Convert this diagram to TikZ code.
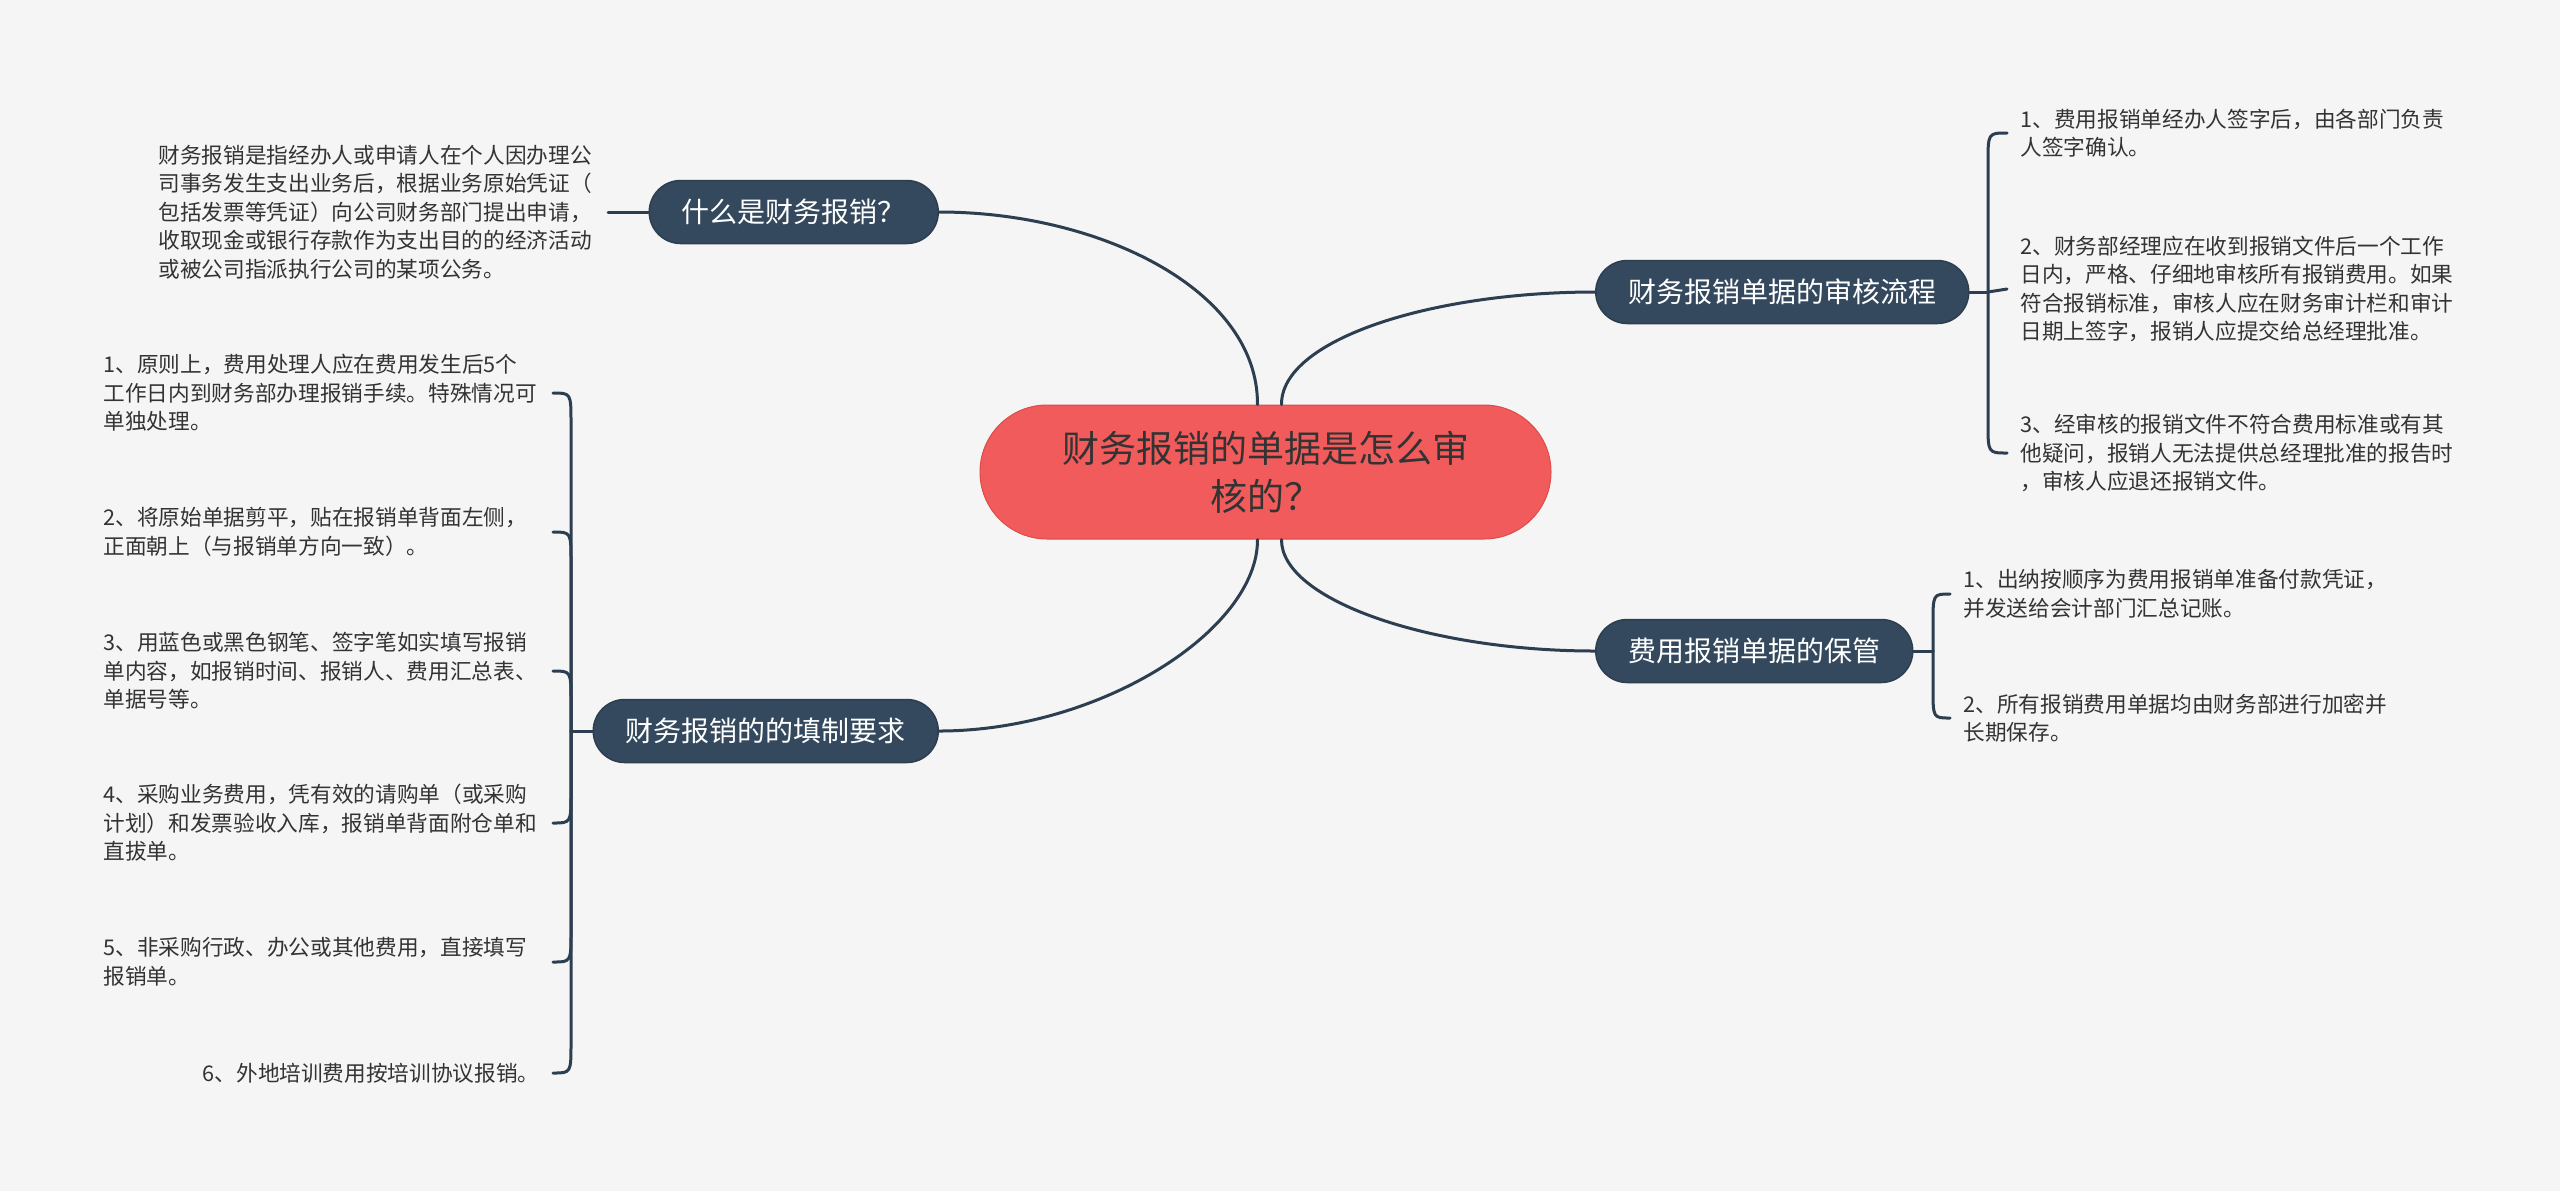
\documentclass[tikz,border=0pt]{standalone}
\usepackage{fontspec}
\setmainfont{Noto Sans CJK SC}
\definecolor{navy}{HTML}{34495E}
\definecolor{navyline}{HTML}{2C3E50}
\definecolor{coral}{HTML}{F15B5B}
\definecolor{coraledge}{HTML}{DB4C4C}
\definecolor{paper}{HTML}{F5F5F5}
\definecolor{ink}{HTML}{333333}
\begin{document}
\begin{tikzpicture}[x=0.5pt, y=-0.5pt, line join=round, line cap=round,
	link/.style={draw=navyline, line width=1.5pt},
	topic/.style={fill=navy, draw=navyline, line width=0.75pt, text=white, rounded corners=15.75pt, minimum height=31.5pt, inner xsep=16.25pt, inner ysep=0pt, font=\fontsize{14pt}{17pt}\selectfont},
	leaf/.style={text=ink, text width=218pt, align=left, inner xsep=6.5pt, inner ysep=0pt, font=\fontsize{10.83pt}{14.25pt}\selectfont}]
	\fill[paper] (0,0) rectangle (2560,1191);
	\useasboundingbox (0,0) rectangle (2560,1191);
	\node[fill=coral, draw=coraledge, line width=0.5pt, text=ink, rounded corners=33.5pt, minimum width=285.5pt, minimum height=67pt, align=center, font=\fontsize{18.5pt}{24pt}\selectfont] (root) at (1265.5,472) {财务报销的单据是怎么审\\核的？};
	\node[topic, anchor=east] (what) at (939,212) {什么是财务报销？};
	\node[topic, anchor=east] (fill) at (939,731) {财务报销的的填制要求};
	\node[topic, anchor=west] (review) at (1595,292) {财务报销单据的审核流程};
	\node[topic, anchor=west] (keep) at (1595,651) {费用报销单据的保管};
	\node[leaf, anchor=east] (whatdesc) at (608,212) {财务报销是指经办人或申请人在个人因办理公\\司事务发生支出业务后，根据业务原始凭证（\\包括发票等凭证）向公司财务部门提出申请，\\收取现金或银行存款作为支出目的的经济活动\\或被公司指派执行公司的某项公务。};
	\node[leaf, anchor=east] (fill1) at (553,393) {1、原则上，费用处理人应在费用发生后5个\\工作日内到财务部办理报销手续。特殊情况可\\单独处理。};
	\node[leaf, anchor=east] (fill2) at (553,532) {2、将原始单据剪平，贴在报销单背面左侧，\\正面朝上（与报销单方向一致）。};
	\node[leaf, anchor=east] (fill3) at (553,671) {3、用蓝色或黑色钢笔、签字笔如实填写报销\\单内容，如报销时间、报销人、费用汇总表、\\单据号等。};
	\node[leaf, anchor=east] (fill4) at (553,823) {4、采购业务费用，凭有效的请购单（或采购\\计划）和发票验收入库，报销单背面附仓单和\\直拔单。};
	\node[leaf, anchor=east] (fill5) at (553,962) {5、非采购行政、办公或其他费用，直接填写\\报销单。};
	\node[leaf, anchor=east, align=right] (fill6) at (553,1073) {6、外地培训费用按培训协议报销。};
	\node[leaf, anchor=west] (review1) at (2007,133) {1、费用报销单经办人签字后，由各部门负责\\人签字确认。};
	\node[leaf, anchor=west] (review2) at (2007,289) {2、财务部经理应在收到报销文件后一个工作\\日内，严格、仔细地审核所有报销费用。如果\\符合报销标准，审核人应在财务审计栏和审计\\日期上签字，报销人应提交给总经理批准。};
	\node[leaf, anchor=west] (review3) at (2007,453) {3、经审核的报销文件不符合费用标准或有其\\他疑问，报销人无法提供总经理批准的报告时\\，审核人应退还报销文件。};
	\node[leaf, anchor=west] (keep1) at (1950,594) {1、出纳按顺序为费用报销单准备付款凭证，\\并发送给会计部门汇总记账。};
	\node[leaf, anchor=west] (keep2) at (1950,718) {2、所有报销费用单据均由财务部进行加密并\\长期保存。};
	\draw[link] (what.east) .. controls (1100,212) and (1258,290) .. ([xshift=-4pt]root.north);
	\draw[link] (fill.east) .. controls (1100,731) and (1258,630) .. ([xshift=-4pt]root.south);
	\draw[link] (review.west) .. controls (1430,292) and (1281,340) .. ([xshift=8pt]root.north);
	\draw[link] (keep.west) .. controls (1430,651) and (1281,600) .. ([xshift=8pt]root.south);
	\draw[link] (what.west) -- (whatdesc.east);
	\coordinate (fillfork) at (571,731);
	\coordinate (reviewfork) at (1988,292);
	\coordinate (keepfork) at (1933,651);
	\draw[link] (fill.west) -- (fillfork);
	\draw[link] (review.east) -- (reviewfork);
	\draw[link] (keep.east) -- (keepfork);
	\foreach \i/\s in {1/-1,2/-1,3/-1,4/1,5/1,6/1}
	\draw[link] (fillfork) -- ([yshift=\s*15pt]fillfork |- fill\i.east) .. controls (fillfork |- fill\i.east) .. (fill\i.east);
	\foreach \i/\s in {1/-1,3/1}
	\draw[link] (reviewfork) -- ([yshift=\s*15pt]reviewfork |- review\i.west) .. controls (reviewfork |- review\i.west) .. (review\i.west);
	\draw[link] (reviewfork) -- (review2.west);
	\foreach \i/\s in {1/-1,2/1}
	\draw[link] (keepfork) -- ([yshift=\s*15pt]keepfork |- keep\i.west) .. controls (keepfork |- keep\i.west) .. (keep\i.west);
\end{tikzpicture}
\end{document}
